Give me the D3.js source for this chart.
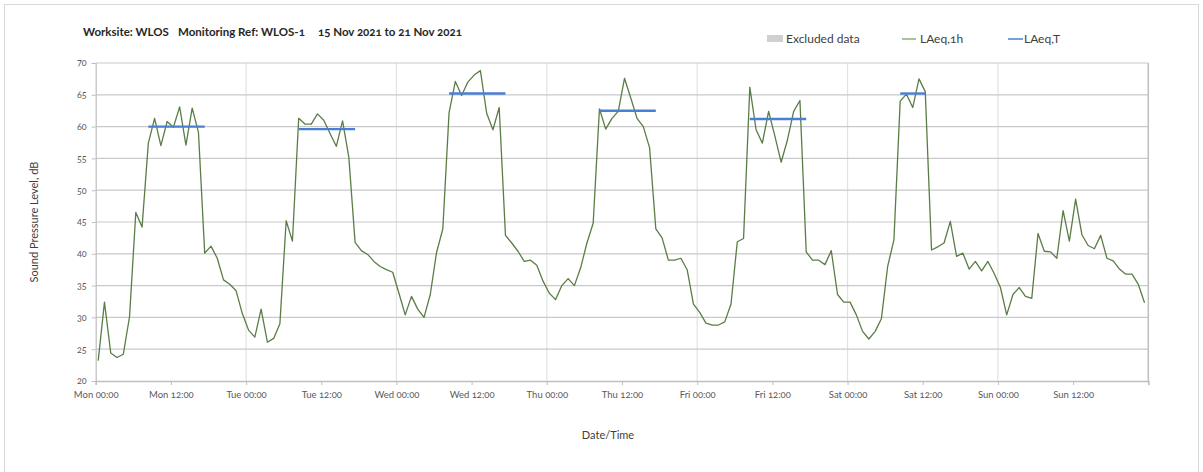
<!DOCTYPE html>
<html>
<head>
<meta charset="utf-8">
<script src="https://cdn.jsdelivr.net/npm/d3@7"></script>
<style>
  body { margin: 0; background: #fff; }
  text { font-family: Lato, "Open Sans", sans-serif; font-variant-numeric: oldstyle-nums; }
</style>
</head>
<body>
<script>
// hourly LAeq,1h values, Mon 00:00 .. Sun 23:00
var laeq1h = [
    23.2, 32.4, 24.4, 23.7, 24.2, 30.1, 46.5, 44.2, 57.4, 61.3, 57.0, 60.8, 59.9, 63.1, 57.1, 62.9, 59.1, 40.1, 41.2, 39.3, 35.9, 35.2, 34.2, 30.6,
    28.0, 26.9, 31.3, 26.1, 26.7, 29.0, 45.2, 42.0, 61.3, 60.4, 60.4, 62.0, 61.0, 58.9, 56.9, 60.9, 55.2, 41.8, 40.5, 39.9, 38.8, 38.0, 37.5, 37.1,
    33.8, 30.4, 33.3, 31.3, 30.0, 33.6, 40.2, 43.9, 62.2, 67.1, 64.9, 67.0, 68.1, 68.8, 62.1, 59.5, 63.0, 42.9, 41.7, 40.4, 38.8, 39.0, 38.2, 35.7,
    33.8, 32.8, 35.0, 36.1, 35.0, 37.8, 41.7, 44.8, 62.8, 59.6, 61.3, 62.4, 67.6, 64.5, 61.3, 60.0, 56.7, 43.9, 42.5, 39.0, 39.0, 39.3, 37.5, 32.1,
    30.8, 29.1, 28.8, 28.8, 29.3, 32.1, 41.9, 42.4, 66.2, 59.5, 57.4, 62.4, 58.5, 54.4, 57.9, 62.4, 64.1, 40.3, 39.0, 39.0, 38.3, 40.5, 33.6, 32.4,
    32.4, 30.4, 27.8, 26.6, 27.8, 29.8, 38.0, 42.2, 64.0, 65.1, 63.0, 67.5, 65.5, 40.6, 41.1, 41.7, 45.1, 39.6, 40.1, 37.6, 38.8, 37.3, 38.8, 36.9,
    34.7, 30.4, 33.6, 34.7, 33.3, 33.0, 43.2, 40.4, 40.3, 39.3, 46.8, 42.0, 48.6, 43.0, 41.3, 40.8, 42.9, 39.3, 38.9, 37.6, 36.8, 36.8, 35.2, 32.3
];
var sampleOffset = 0.4; // points sit a little after the hour

// LAeq,T working periods (hour index from / to) and values
var periodFrom = [8, 32, 56, 80, 104, 128];
var periodTo = [17, 41, 65, 89, 113, 132];
var periodValue = [60.0, 59.6, 65.2, 62.5, 61.2, 65.2];

var dayNames = ["Mon", "Tue", "Wed", "Thu", "Fri", "Sat", "Sun"];
var yTicks = [20, 25, 30, 35, 40, 45, 50, 55, 60, 65, 70];

var W = 1203, H = 472;
var margin = { top: 63, left: 95.7, right: 1148.3, bottom: 381 };

var svg = d3.select("body").append("svg")
    .attr("width", W)
    .attr("height", H);

// outer frame
svg.append("rect")
    .attr("x", 4.5).attr("y", 4.5)
    .attr("width", 1194).attr("height", 480)
    .attr("fill", "#fff")
    .attr("stroke", "#d9d9d9");

var x = d3.scaleLinear().domain([0, 168]).range([margin.left, margin.right]);
var y = d3.scaleLinear().domain([20, 70]).range([margin.bottom, margin.top]);

// vertical day gridlines
svg.append("g").selectAll("line")
    .data(d3.range(24, 168, 24))
    .enter().append("line")
    .attr("x1", function (d) { return x(d); })
    .attr("x2", function (d) { return x(d); })
    .attr("y1", y(70)).attr("y2", y(20))
    .attr("stroke", "#e2e2e2")
    .attr("stroke-width", 1.2);

// horizontal gridlines
svg.append("g").selectAll("line")
    .data(yTicks.slice(1))
    .enter().append("line")
    .attr("x1", x(0)).attr("x2", x(168))
    .attr("y1", function (d) { return y(d); })
    .attr("y2", function (d) { return y(d); })
    .attr("stroke", "#c9c9c9")
    .attr("stroke-width", 1.2);

// right edge
svg.append("line")
    .attr("x1", x(168)).attr("x2", x(168))
    .attr("y1", y(70)).attr("y2", y(20))
    .attr("stroke", "#bfbfbf").attr("stroke-width", 1.5);

// y axis
var yAxis = d3.axisLeft(y).tickValues(yTicks).tickSize(4).tickPadding(5);
var gy = svg.append("g")
    .attr("transform", "translate(" + x(0) + ",0)")
    .call(yAxis);
gy.select(".domain").attr("stroke", "#bfbfbf").attr("stroke-width", 1.2);
gy.selectAll(".tick line").attr("stroke", "#bfbfbf");
gy.selectAll(".tick text")
    .attr("fill", "#595959")
    .style("font-size", "9px");

// x axis
var xAxis = d3.axisBottom(x)
    .tickValues(d3.range(0, 169, 12))
    .tickSize(4)
    .tickPadding(6)
    .tickFormat(function (d) {
        if (d >= 168) return "";
        return dayNames[Math.floor(d / 24)] + (d % 24 === 0 ? " 00:00" : " 12:00");
    });
var gx = svg.append("g")
    .attr("transform", "translate(0," + y(20) + ")")
    .call(xAxis);
gx.select(".domain").attr("stroke", "#bfbfbf").attr("stroke-width", 1.5);
gx.selectAll(".tick line").attr("stroke", "#bfbfbf");
gx.selectAll(".tick text")
    .attr("fill", "#595959")
    .style("font-size", "9.5px");

// LAeq,1h line
var line = d3.line()
    .x(function (d, i) { return x(i + sampleOffset); })
    .y(function (d) { return y(d); });

svg.append("path")
    .datum(laeq1h)
    .attr("fill", "none")
    .attr("stroke", "#5a7d46")
    .attr("stroke-width", 1.3)
    .attr("stroke-linejoin", "round")
    .attr("d", line);

// LAeq,T segments
svg.append("g").selectAll("line")
    .data(periodValue)
    .enter().append("line")
    .attr("x1", function (d, i) { return x(periodFrom[i] + sampleOffset); })
    .attr("x2", function (d, i) { return x(periodTo[i] + sampleOffset); })
    .attr("y1", function (d) { return y(d); })
    .attr("y2", function (d) { return y(d); })
    .attr("stroke", "#4a7fd4")
    .attr("stroke-width", 2.4);

// title
var title = [
    { t: "Worksite: WLOS", x: 83 },
    { t: "Monitoring Ref: WLOS-1", x: 178 },
    { t: "15 Nov 2021 to 21 Nov 2021", x: 318 }
];
svg.selectAll(".title")
    .data(title)
    .enter().append("text")
    .attr("class", "title")
    .attr("x", function (d) { return d.x; })
    .attr("y", 36)
    .attr("fill", "#262626")
    .style("font-size", "11.5px")
    .style("font-weight", "bold")
    .text(function (d) { return d.t; });

// legend
var legend = svg.append("g");
legend.append("rect")
    .attr("x", 767).attr("y", 35)
    .attr("width", 16).attr("height", 7)
    .attr("fill", "#d0d0d0");
legend.append("text").attr("x", 786).attr("y", 43).text("Excluded data");
legend.append("line")
    .attr("x1", 902).attr("x2", 916).attr("y1", 39).attr("y2", 39)
    .attr("stroke", "#8fab7d").attr("stroke-width", 1.5);
legend.append("text").attr("x", 920).attr("y", 43).text("LAeq,1h");
legend.append("line")
    .attr("x1", 1008).attr("x2", 1023).attr("y1", 39).attr("y2", 39)
    .attr("stroke", "#4a7fd4").attr("stroke-width", 1.5);
legend.append("text").attr("x", 1024).attr("y", 43).text("LAeq,T");
legend.selectAll("text")
    .attr("fill", "#404040")
    .style("font-size", "12px");

// axis titles
svg.append("text")
    .attr("transform", "translate(38," + ((y(70) + y(20)) / 2) + ") rotate(-90)")
    .attr("text-anchor", "middle")
    .attr("fill", "#404040")
    .style("font-size", "11px")
    .text("Sound Pressure Level, dB");

svg.append("text")
    .attr("x", 608)
    .attr("y", 439)
    .attr("text-anchor", "middle")
    .attr("fill", "#404040")
    .style("font-size", "11px")
    .text("Date/Time");
</script>
</body>
</html>
